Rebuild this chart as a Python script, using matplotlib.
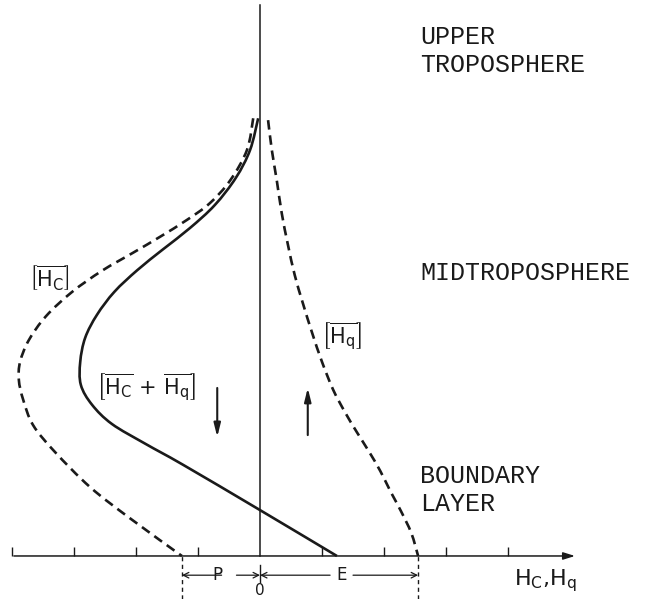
import matplotlib
matplotlib.use("Agg")
import matplotlib.pyplot as plt
from matplotlib.path import Path
from matplotlib.patches import PathPatch
import numpy as np

# heat-source profiles, height (y) against H_C, H_q (x); axis units are arbitrary
hc_x = [-0.11, -0.21, -0.48, -0.81, -1.18, -1.61, -2.05, -2.55, -3.03, -3.45,
        -3.73, -3.87, -3.89, -3.82, -3.66, -3.31, -2.74, -2.10, -1.26]
hc_y = [7.06, 6.55, 6.06, 5.69, 5.42, 5.15, 4.89, 4.60, 4.26, 3.87,
        3.48, 3.13, 2.84, 2.52, 2.11, 1.68, 1.11, 0.61, 0.0]

sum_x = [-0.03, -0.16, -0.39, -0.73, -1.13, -1.56, -1.98, -2.35, -2.63, -2.82,
         -2.90, -2.89, -2.71, -2.39, -1.85, -1.24, 0.0, 1.24]
sum_y = [7.06, 6.55, 6.10, 5.66, 5.29, 4.95, 4.61, 4.26, 3.89, 3.52,
         3.13, 2.76, 2.44, 2.13, 1.81, 1.47, 0.74, 0.0]

hq_x = [0.13, 0.19, 0.27, 0.35, 0.45, 0.56, 0.69, 0.84, 1.00, 1.18,
        1.37, 1.56, 1.76, 1.94, 2.11, 2.27, 2.44, 2.55]
hq_y = [7.03, 6.55, 6.06, 5.53, 5.02, 4.53, 4.08, 3.60, 3.13, 2.68,
        2.32, 2.00, 1.68, 1.37, 1.03, 0.73, 0.37, 0.0]

tick_pos = [-4, -3, -2, -1, 1, 2, 3, 4]
P_val = hc_x[-1]
E_val = hq_x[-1]

ink = "#1a1a1a"


def smooth_path(xs, ys):
    # Catmull-Rom through the points, written as cubic Bezier segments
    pts = np.column_stack([xs, ys])
    ext = np.vstack([pts[0], pts, pts[-1]])
    verts = [pts[0]]
    codes = [Path.MOVETO]
    for i in range(1, len(ext) - 2):
        p0, p1, p2, p3 = ext[i - 1], ext[i], ext[i + 1], ext[i + 2]
        verts += [p1 + (p2 - p0) / 6, p2 - (p3 - p1) / 6, p2]
        codes += [Path.CURVE4] * 3
    return Path(verts, codes)


fig = plt.figure(figsize=(6.5, 5.99), dpi=100)
ax = fig.add_axes([0, 0, 1, 1])
ax.set_xlim(-4.194, 6.29)
ax.set_ylim(-0.694, 8.968)
ax.axis("off")

# profiles
dash = (0, (3.6, 2.2))
ax.add_patch(PathPatch(smooth_path(hc_x, hc_y), fill=False, ec=ink, lw=1.9, ls=dash))
ax.add_patch(PathPatch(smooth_path(sum_x, sum_y), fill=False, ec=ink, lw=1.9))
ax.add_patch(PathPatch(smooth_path(hq_x, hq_y), fill=False, ec=ink, lw=1.9, ls=dash))

# axes
ax.plot([0, 0], [0, 8.88], color=ink, lw=1.1)
ax.annotate("", xy=(5.08, 0), xytext=(-3.97, 0),
            arrowprops=dict(arrowstyle="-|>,head_length=0.7,head_width=0.22",
                            color=ink, lw=1.1, shrinkA=0, shrinkB=0))
ax.vlines(tick_pos, 0, 0.14, color=ink, lw=1.0)

# P and E brackets under the axis
ax.vlines([P_val, E_val], -0.7, 0, color=ink, lw=1.0, ls=(0, (3, 2.5)))
ax.plot([0, 0], [-0.15, -0.42], color=ink, lw=1.0)
yb = -0.31
arr = dict(arrowstyle="->", color=ink, lw=0.9, shrinkA=0, shrinkB=0)
ax.annotate("", xy=(P_val, yb), xytext=(-0.62, yb), arrowprops=arr)
ax.annotate("", xy=(0, yb), xytext=(-0.38, yb), arrowprops=arr)
ax.annotate("", xy=(0, yb), xytext=(1.13, yb), arrowprops=arr)
ax.annotate("", xy=(E_val, yb), xytext=(1.5, yb), arrowprops=arr)
ax.text(-0.69, yb, "P", ha="center", va="center", fontsize=12, color=ink)
ax.text(1.31, yb, "E", ha="center", va="center", fontsize=12, color=ink)
ax.text(0, -0.685, "0", ha="center", va="bottom", fontsize=11, color=ink)
ax.text(4.1, -0.40, r"$\mathrm{H_C{,}H_q}$", ha="left", va="center",
        fontsize=16, color=ink)

# curve labels
ax.text(-3.40, 4.48, r"$\left[\overline{\mathrm{H_C}}\right]$", ha="center",
        va="center", fontsize=15, color=ink)
ax.text(1.32, 3.53, r"$\left[\overline{\mathrm{H_q}}\right]$", ha="center",
        va="center", fontsize=15, color=ink)
ax.text(-1.84, 2.71, r"$\left[\overline{\mathrm{H_C}}\,+\,\overline{\mathrm{H_q}}\right]$",
        ha="center", va="center", fontsize=15, color=ink)

# subsidence / ascent arrows
varr = dict(arrowstyle="-|>,head_length=0.8,head_width=0.2",
            color=ink, lw=1.5, shrinkA=0, shrinkB=0)
ax.annotate("", xy=(-0.69, 1.92), xytext=(-0.69, 2.71), arrowprops=varr)
ax.annotate("", xy=(0.77, 2.71), xytext=(0.77, 1.95), arrowprops=varr)

# layer names, in an evenly spaced lettering face
layer_kw = dict(ha="left", va="center", fontsize=18, color=ink, linespacing=1.22,
                family="Liberation Mono")
ax.text(2.58, 8.15, "UPPER\nTROPOSPHERE", **layer_kw)
ax.text(2.58, 4.56, "MIDTROPOSPHERE", **layer_kw)
ax.text(2.58, 1.06, "BOUNDARY\nLAYER", **layer_kw)

fig.savefig("out.png", dpi=100)
